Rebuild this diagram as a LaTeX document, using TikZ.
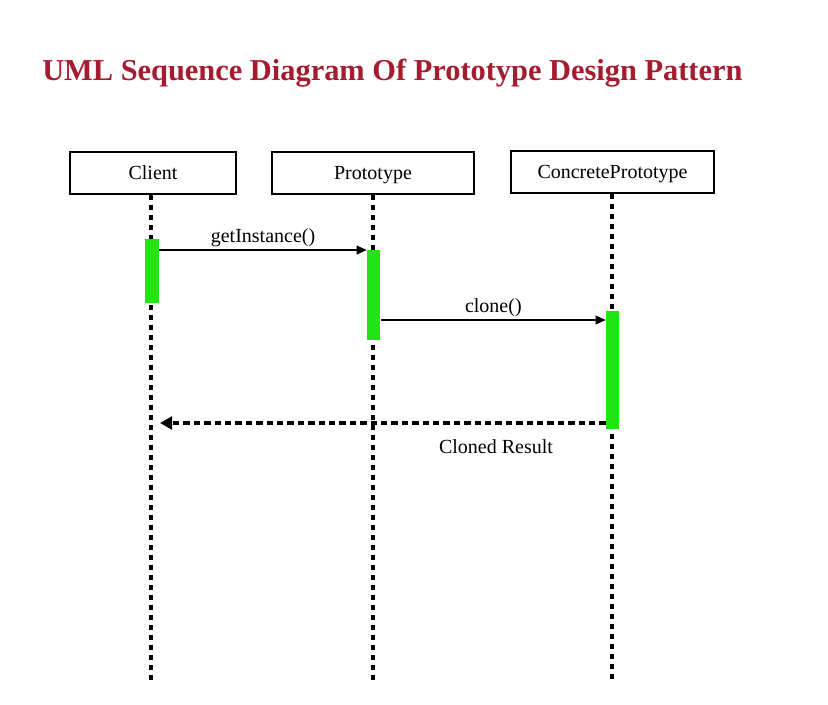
\documentclass[tikz,border=0pt]{standalone}
\usepackage{fontspec}
\setmainfont{Liberation Serif}
\usetikzlibrary{arrows.meta}
\definecolor{titlered}{HTML}{A51C30}
\definecolor{actgreen}{HTML}{22E412}
\tikzset{
  objbox/.style={draw, line width=1.5pt, minimum height=42*0.75pt, inner sep=0pt, text height=10pt, text depth=0pt, font=\fontsize{15}{17}\selectfont},
  lifeline/.style={line width=2.4pt, dash pattern=on 4pt off 3.5pt},
  actbar/.style={fill=actgreen, draw=none},
  msg/.style={line width=1.1pt, -{Triangle[length=7.5pt,width=6.5pt]}},
  retmsg/.style={line width=2.4pt, dash pattern=on 4.8pt off 3pt, -{Triangle[length=9pt,width=9.5pt]}},
  lbl/.style={font=\fontsize{15}{17}\selectfont, inner sep=0pt}
}
\begin{document}
\begin{tikzpicture}[x=0.75pt,y=-0.75pt]
\useasboundingbox (0,0) rectangle (828,704);
\node[anchor=base west, text=titlered, inner sep=0pt, font=\fontsize{22.8}{26}\selectfont\bfseries] (title) at (42,80) {UML Sequence Diagram Of Prototype Design Pattern};
% objects
\node[objbox, minimum width=166*0.75pt] (client) at (153,173) {Client};
\node[objbox, minimum width=202*0.75pt] (proto) at (373,173) {Prototype};
\node[objbox, minimum width=203*0.75pt] (conc) at (612.5,172) {ConcretePrototype};
% lifeline ends
\coordinate (cEnd) at (151,680);
\coordinate (pEnd) at (373,680);
\coordinate (kEnd) at (612,680);
\draw[lifeline] (client.south -| cEnd) -- (cEnd);
\draw[lifeline] (proto.south -| pEnd) -- (pEnd);
\draw[lifeline] (conc.south -| kEnd) -- (kEnd);
% activation bars
\node[actbar, minimum width=14*0.75pt, minimum height=64*0.75pt, inner sep=0pt, anchor=north] (actC) at (152,239) {};
\node[actbar, minimum width=13*0.75pt, minimum height=90*0.75pt, inner sep=0pt, anchor=north] (actP) at (373.5,250) {};
\node[actbar, minimum width=13*0.75pt, minimum height=118*0.75pt, inner sep=0pt, anchor=north] (actK) at (612.5,311) {};
% messages
\coordinate (m1s) at (159,250);
\draw[msg] (actC.east |- m1s) -- node[lbl, above=2pt] {getInstance()} (actP.north west);
\coordinate (m2s) at (381,320);
\draw[msg] (m2s) -- node[lbl, above=2pt] {clone()} (actK.west |- m2s);
\coordinate (m3) at (606,423);
\coordinate (m3e) at (160,423);
\draw[retmsg] (actK.west |- m3) -- (m3e);
\node[lbl] (retlbl) at (496,447) {Cloned Result};
\end{tikzpicture}
\end{document}
